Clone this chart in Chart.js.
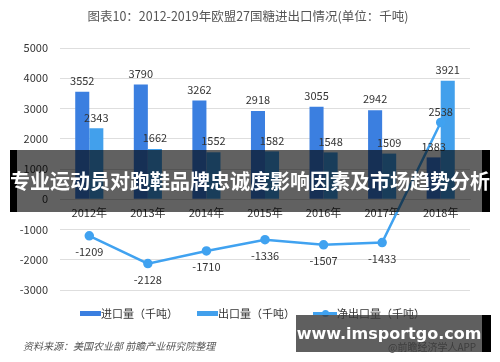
<!DOCTYPE html>
<html>
<head>
<meta charset="utf-8">
<script src="https://cdn.jsdelivr.net/npm/chart.js@4/dist/chart.umd.min.js"></script>
<style>
  html, body { margin: 0; padding: 0; background: #fff; }
  #wrap { position: relative; width: 500px; height: 362px; overflow: hidden; font-family: "Noto Sans CJK SC", "Noto Sans", sans-serif; }
  canvas { position: absolute; left: 0; top: 0; }
  #title { position: absolute; left: 0; top: 6px; width: 496px; text-align: center; font-size: 12.5px; color: #555; }
  #source { position: absolute; left: 23px; top: 338px; font-size: 10px; font-style: italic; color: #555; }
  #legend { position: absolute; top: 305px; left: 0; height: 16px; width: 500px; font-size: 11px; color: #333; }
  .li { position: absolute; top: 0; height: 16px; line-height: 16px; white-space: nowrap; }
  .sw { position: absolute; top: 6px; height: 5px; }
  .lsw { position: absolute; top: 7px; height: 3px; }
  .dot { position: absolute; top: 5px; width: 7px; height: 7px; border-radius: 50%; }
  #banner { position: absolute; left: 10px; top: 150px; width: 480px; height: 62px; background: rgba(0,0,0,0.62); border-left: 7px solid #000; border-right: 8px solid #000; box-sizing: border-box; }
  #bannerText { position: absolute; left: 0; top: 150px; width: 500px; height: 62px; line-height: 62px; text-align: center; color: #fff; font-weight: bold; font-size: 20px; white-space: nowrap; }
  #app { position: absolute; left: 388px; top: 339px; font-size: 10px; color: #444; }
  #wm { position: absolute; left: 296px; top: 315px; width: 195px; height: 37px; background: rgba(60,60,60,0.82); border-right: 9px solid #000; box-sizing: border-box; }
  #wmText { position: absolute; left: 296px; top: 315px; width: 186px; height: 37px; line-height: 37px; text-align: center; color: #fff; font-weight: bold; font-size: 16px; font-family: "DejaVu Sans", sans-serif; white-space: nowrap; }
</style>
</head>
<body>
<div id="wrap">
  <canvas id="c" width="500" height="362"></canvas>
  <div id="title">图表10：2012-2019年欧盟27国糖进出口情况(单位：千吨)</div>
  <div id="legend"></div>
  <div id="source">资料来源：美国农业部 前瞻产业研究院整理</div>
  <div id="banner"></div>
  <div id="bannerText">专业运动员对跑鞋品牌忠诚度影响因素及市场趋势分析</div>
  <div id="app">@前瞻经济学人APP</div>
  <div id="wm"></div>
  <div id="wmText">www.imsportgo.com</div>
</div>
<script>
const categories = ["2012年", "2013年", "2014年", "2015年", "2016年", "2017年", "2018年"];
const importValues = [3552, 3790, 3262, 2918, 3055, 2942, 1383];
const exportValues = [2343, 1662, 1552, 1582, 1548, 1509, 3921];
const netExportValues = [-1209, -2128, -1710, -1336, -1507, -1433, 2538];
const seriesNames = ["进口量（千吨）", "出口量（千吨）", "净出口量（千吨）"];
const yTicks = [5000, 4000, 3000, 2000, 1000, 0, -1000, -2000, -3000];
const seriesColors = ["#3b7fe0", "#42a0ec", "#40a2f0"];

const FONT = '"Noto Sans CJK SC", "Noto Sans", sans-serif';

const labelPlugin = {
  id: 'valueLabels',
  afterDatasetsDraw(chart) {
    const ctx = chart.ctx;
    ctx.save();
    ctx.font = '11px ' + FONT;
    ctx.fillStyle = '#333';
    ctx.textAlign = 'center';
    ctx.textBaseline = 'middle';
    chart.data.datasets.forEach((ds, di) => {
      const meta = chart.getDatasetMeta(di);
      meta.data.forEach((el, i) => {
        const v = ds.data[i];
        let y;
        if (ds.type === 'line') {
          y = v < 0 ? el.y + 16 : el.y - 11;
        } else {
          y = el.y - 11;
        }
        ctx.fillText(String(v), el.x, y);
      });
    });
    ctx.restore();
  }
};

const chart = new Chart(document.getElementById('c'), {
  data: {
    labels: categories,
    datasets: [
      { type: 'bar', label: seriesNames[0], data: importValues, backgroundColor: seriesColors[0], order: 2, categoryPercentage: 0.48, barPercentage: 1.0 },
      { type: 'bar', label: seriesNames[1], data: exportValues, backgroundColor: seriesColors[1], order: 2, categoryPercentage: 0.48, barPercentage: 1.0 },
      { type: 'line', label: seriesNames[2], data: netExportValues, borderColor: seriesColors[2], backgroundColor: seriesColors[2], borderWidth: 2.5, pointRadius: 3.5, pointHoverRadius: 3.5, tension: 0, order: 1 }
    ]
  },
  options: {
    responsive: false,
    animation: false,
    devicePixelRatio: 1,
    layout: { padding: { top: 48, right: 30, bottom: 72, left: 0 } },
    plugins: {
      title: { display: false },
      tooltip: { enabled: false },
      legend: { display: false }
    },
    scales: {
      x: {
        type: 'category',
        position: { y: 0 },
        grid: { display: false, drawTicks: false },
        border: { display: true, color: '#d9d9d9', width: 1 },
        ticks: { font: { family: FONT, size: 11 }, color: '#333', padding: 7 }
      },
      y: {
        min: -3000,
        max: 5000,
        afterBuildTicks(scale) { scale.ticks = yTicks.map(v => ({ value: v })); },
        afterFit(scale) { scale.width = 60; },
        grid: { color: '#dedede', drawTicks: false },
        border: { display: false },
        ticks: { font: { family: FONT, size: 11 }, color: '#333', padding: 12, callback: v => String(v) }
      }
    }
  },
  plugins: [labelPlugin]
});

// HTML legend built from the chart's datasets
const legendPos = [80, 197, 313];
const legend = document.getElementById('legend');
chart.data.datasets.forEach((ds, i) => {
  const item = document.createElement('div');
  item.className = 'li';
  item.style.left = legendPos[i] + 'px';
  let sw;
  if (ds.type === 'line') {
    sw = '<span class="lsw" style="left:0;width:24px;background:' + ds.borderColor + '"></span>' +
         '<span class="dot" style="left:8.5px;background:' + ds.borderColor + '"></span>';
    item.innerHTML = sw + '<span style="margin-left:24px">' + ds.label + '</span>';
  } else {
    sw = '<span class="sw" style="left:0;width:21px;background:' + ds.backgroundColor + '"></span>';
    item.innerHTML = sw + '<span style="margin-left:21px">' + ds.label + '</span>';
  }
  legend.appendChild(item);
});
</script>
</body>
</html>
